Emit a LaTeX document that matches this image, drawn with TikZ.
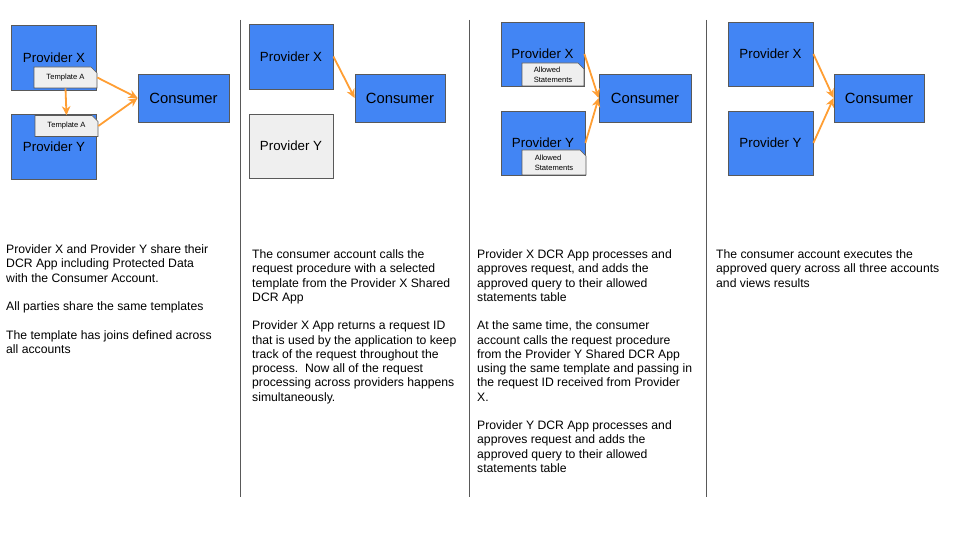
\documentclass[tikz,border=0pt]{standalone}
\usepackage{fontspec}
\setmainfont{Liberation Sans}
\usetikzlibrary{arrows.meta,shapes.misc}
\definecolor{gblue}{HTML}{4285F4}
\definecolor{edgegray}{HTML}{595959}
\definecolor{notegray}{HTML}{EFEFEF}
\definecolor{arrorange}{HTML}{FF9E33}
\begin{document}
\begin{tikzpicture}[x=1pt, y=-1pt,
    prov/.style={draw=edgegray, line width=0.8pt, fill=gblue, minimum width=85pt, minimum height=65pt, inner sep=0pt, font=\fontsize{13.3}{16}\selectfont},
    idle/.style={prov, fill=notegray},
    cons/.style={prov, minimum width=91pt, minimum height=48pt, font=\fontsize{14.8}{17}\selectfont},
    note/.style={chamfered rectangle, chamfered rectangle corners=north east, chamfered rectangle xsep=3pt, chamfered rectangle ysep=3pt, draw=edgegray, line width=0.6pt, fill=notegray, minimum width=63pt, minimum height=21pt, inner sep=0pt, align=left, font=\fontsize{7.6}{10}\selectfont},
    flow/.style={-{Stealth[length=9pt,width=8.5pt]}, line width=1.8pt, draw=arrorange},
    story/.style={anchor=north west, inner sep=0pt, align=left, font=\fontsize{12.2}{14.25}\selectfont},
    sep/.style={draw=edgegray, line width=0.8pt}]
      \useasboundingbox (0, 0) rectangle (960, 540);
      \draw[sep] (240, 20) -- (240, 497);
      \draw[sep] (469, 20) -- (469, 497);
      \draw[sep] (706, 20) -- (706, 497);

      \node[prov] (px1) at (54, 57.5) {Provider X};
      \node[prov] (py1) at (54, 146.5) {\raisebox{-2pt}{Provider Y}};
      \node[cons] (cons1) at (183.5, 98) {Consumer};
      \node[note] (tx1) at (65.5, 77.5) {Template A};
      \node[note] (ty1) at (66.5, 126) {Template A};
      \draw[flow] (tx1.east) -- (cons1.west);
      \draw[flow] (ty1.east) -- (cons1.west);
      \draw[flow] (tx1.south) -- (ty1.north);
      \node[story] (txt1) at (6, 244.5) {Provider X and Provider Y share their\\DCR App including Protected Data\\with the Consumer Account.\\[14.25pt]All parties share the same templates\\[14.25pt]The template has joins defined across\\all accounts};

      \node[prov, minimum width=84pt] (px2) at (291, 56.5) {Provider X};
      \node[idle, minimum width=84pt, minimum height=64pt] (py2) at (291, 146) {Provider Y};
      \node[cons, minimum width=90pt] (cons2) at (400, 98) {Consumer};
      \draw[flow] (px2.east) -- (cons2.west);
      \node[story] (txt2) at (252, 249.5) {The consumer account calls the\\request procedure with a selected\\template from the Provider X Shared\\DCR App\\[14.25pt]Provider X App returns a request ID\\that is used by the application to keep\\track of the request throughout the\\process.\ \ Now all of the request\\processing across providers happens\\simultaneously.};

      \node[prov, minimum width=83pt, minimum height=64pt] (px3) at (542.5, 54) {Provider X};
      \node[prov, minimum width=84pt, minimum height=64pt] (py3) at (543, 143) {Provider Y};
      \node[note, minimum width=62pt, minimum height=23pt] (ax3) at (553, 74.5) {Allowed\\Statements};
      \node[note, minimum width=64pt, minimum height=25pt] (ay3) at (554, 162.5) {Allowed\\Statements};
      \node[cons, minimum width=92pt] (cons3) at (645, 98) {Consumer};
      \draw[flow] (px3.east) -- (cons3.west);
      \draw[flow] (py3.east) -- (cons3.west);
      \node[story] (txt3) at (477, 249.5) {Provider X DCR App processes and\\approves request, and adds the\\approved query to their allowed\\statements table\\[14.25pt]At the same time, the consumer\\account calls the request procedure\\from the Provider Y Shared DCR App\\using the same template and passing in\\the request ID received from Provider\\X.\\[14.25pt]Provider Y DCR App processes and\\approves request and adds the\\approved query to their allowed\\statements table};

      \node[prov, minimum height=64pt] (px4) at (770.5, 54) {Provider X};
      \node[prov, minimum height=64pt] (py4) at (770.5, 143) {Provider Y};
      \node[cons, minimum width=90pt] (cons4) at (879, 98) {Consumer};
      \draw[flow] (px4.east) -- (cons4.west);
      \draw[flow] (py4.east) -- (cons4.west);
      \node[story] (txt4) at (716, 249.5) {The consumer account executes the\\approved query across all three accounts\\and views results};
    \end{tikzpicture}
\end{document}
